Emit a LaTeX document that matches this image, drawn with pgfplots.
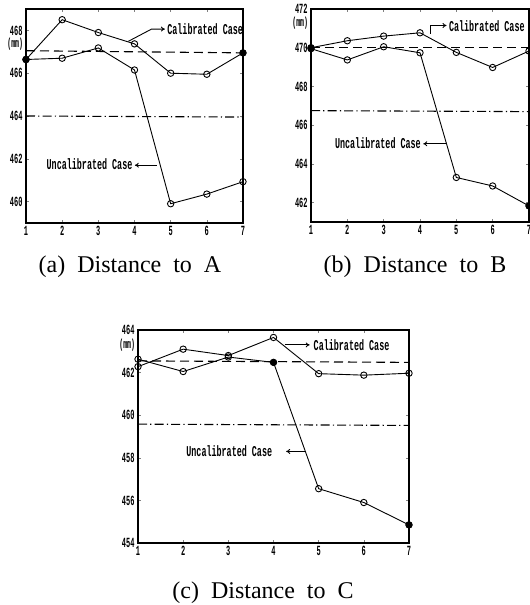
\documentclass[border=0pt]{standalone}
\usepackage{fontspec}
\setmainfont{Liberation Serif}
\newfontfamily\mono[FakeStretch=0.56]{Liberation Mono}
\newfontfamily\monot[FakeStretch=0.5]{Liberation Mono}
\usepackage{pgfplots}
\pgfplotsset{compat=1.18}
\usetikzlibrary{arrows.meta}

\pgfplotsset{
  panel/.style={
    scale only axis, anchor=south west, clip=false,
    axis line style={line width=0.7pt},
    tick align=inside, major tick length=1.5pt,
    xmin=1, xmax=7, xtick={1,...,7},
    ticklabel style={font=\fontsize{7}{7}\selectfont\monot\bfseries, inner sep=1.5pt},
    /pgf/number format/assume math mode=true,
    /pgf/number format/1000 sep={},
  },
}
\tikzset{
  curve/.style={black, line width=0.45pt, mark=o, mark size=1.6pt, mark options={solid}},
  filled/.style={black, only marks, mark=*, mark size=1.5pt},
  refc/.style={black, line width=0.55pt, dash pattern=on 4.5pt off 2.5pt},
  refu/.style={black, line width=0.55pt, dash pattern=on 4.5pt off 1.6pt on 0.6pt off 1.6pt},
  lbl/.style={font=\fontsize{7.5}{8}\selectfont\mono\bfseries, inner sep=0.5pt},
  unit/.style={font=\fontsize{6.5}{7}\selectfont\monot\bfseries, anchor=east, inner sep=0.3pt},
  arr/.style={-{To[length=2pt,width=2.5pt]}, line width=0.45pt},
}

\begin{document}
\begin{tikzpicture}
\useasboundingbox (0,0) rectangle (265pt,302.5pt);

% (a) distance to A
\begin{axis}[panel, at={(13pt,191pt)}, width=108.5pt, height=107pt,
  ymin=459, ymax=469, ytick={460,462,...,468}]
\addplot[refc] coordinates {(1,467.05) (7,466.95)};
\addplot[refu] coordinates {(1,464.0) (7,463.95)};
\addplot[curve] coordinates {(1,466.64) (2,468.5) (3,467.9) (4,467.37) (5,466.0) (6,465.95) (7,466.95)};
\addplot[curve] coordinates {(1,466.64) (2,466.7) (3,467.18) (4,466.15) (5,459.9) (6,460.35) (7,460.93)};
\addplot[filled] coordinates {(1,466.64) (7,466.95)};
\draw[arr] (axis cs:3.83,467.49) -- (axis cs:4.47,468.06) -- (axis cs:4.84,468.06);
\node[lbl,anchor=west] at (axis cs:4.87,468.06) {Calibrated Case};
\draw[arr] (axis cs:4.61,461.7) -- (axis cs:4.01,461.7);
\node[lbl,anchor=east] at (axis cs:3.98,461.75) {Uncalibrated Case};
\node[unit] at ([xshift=-1pt]axis cs:1,467.35) {(mm)};
\end{axis}

% (b) distance to B
\begin{axis}[panel, at={(155.5pt,191.5pt)}, width=109pt, height=106.5pt,
  ymin=461, ymax=472, ytick={462,464,...,472}]
\addplot[refc] coordinates {(1,470.0) (7,470.0)};
\addplot[refu] coordinates {(1,466.75) (7,466.7)};
\addplot[curve] coordinates {(1,470.0) (2,470.36) (3,470.6) (4,470.77) (5,469.76) (6,468.98) (7,469.83)};
\addplot[curve] coordinates {(1,469.95) (2,469.37) (3,470.05) (4,469.74) (5,463.3) (6,462.86) (7,461.83)};
\addplot[filled] coordinates {(1,470.0) (7,461.83)};
\draw[arr] (axis cs:4.29,470.72) -- (axis cs:4.29,471.15) -- (axis cs:4.73,471.15);
\node[lbl,anchor=west] at (axis cs:4.76,471.1) {Calibrated Case};
\draw[arr] (axis cs:4.73,465.04) -- (axis cs:4.09,465.04);
\node[lbl,anchor=east] at (axis cs:4.06,465.06) {Uncalibrated Case};
\node[unit] at ([xshift=-1pt]axis cs:1,471.25) {(mm)};
\end{axis}

% (c) distance to C
\begin{axis}[panel, at={(69pt,31pt)}, width=135.5pt, height=106.5pt,
  ymin=454, ymax=464, ytick={454,456,...,464}]
\addplot[refc] coordinates {(1,462.55) (7,462.48)};
\addplot[refu] coordinates {(1,459.58) (7,459.52)};
\addplot[curve] coordinates {(1,462.28) (2,463.1) (3,462.8) (4,463.65) (5,461.95) (6,461.88) (7,461.97)};
\addplot[curve] coordinates {(1,462.63) (2,462.05) (3,462.73) (4,462.48) (5,456.55) (6,455.9) (7,454.85)};
\addplot[filled] coordinates {(4,462.48) (7,454.85)};
\draw[arr] (axis cs:4.25,463.3) -- (axis cs:4.8,463.3);
\node[lbl,anchor=west] at (axis cs:4.86,463.3) {Calibrated Case};
\draw[arr] (axis cs:4.7,458.3) -- (axis cs:4.28,458.3);
\node[lbl,anchor=east] at (axis cs:4.0,458.3) {Uncalibrated Case};
\node[unit] at ([xshift=-1pt]axis cs:1,463.3) {(mm)};
\end{axis}

\node[font=\fontsize{12}{14}\selectfont] at (65pt,169pt) {(a)\ \ Distance\ \ to\ \ A};
\node[font=\fontsize{12}{14}\selectfont] at (207.5pt,169pt) {(b)\ \ Distance\ \ to\ \ B};
\node[font=\fontsize{12}{14}\selectfont] at (131.5pt,6pt) {(c)\ \ Distance\ \ to\ \ C};
\end{tikzpicture}
\end{document}
